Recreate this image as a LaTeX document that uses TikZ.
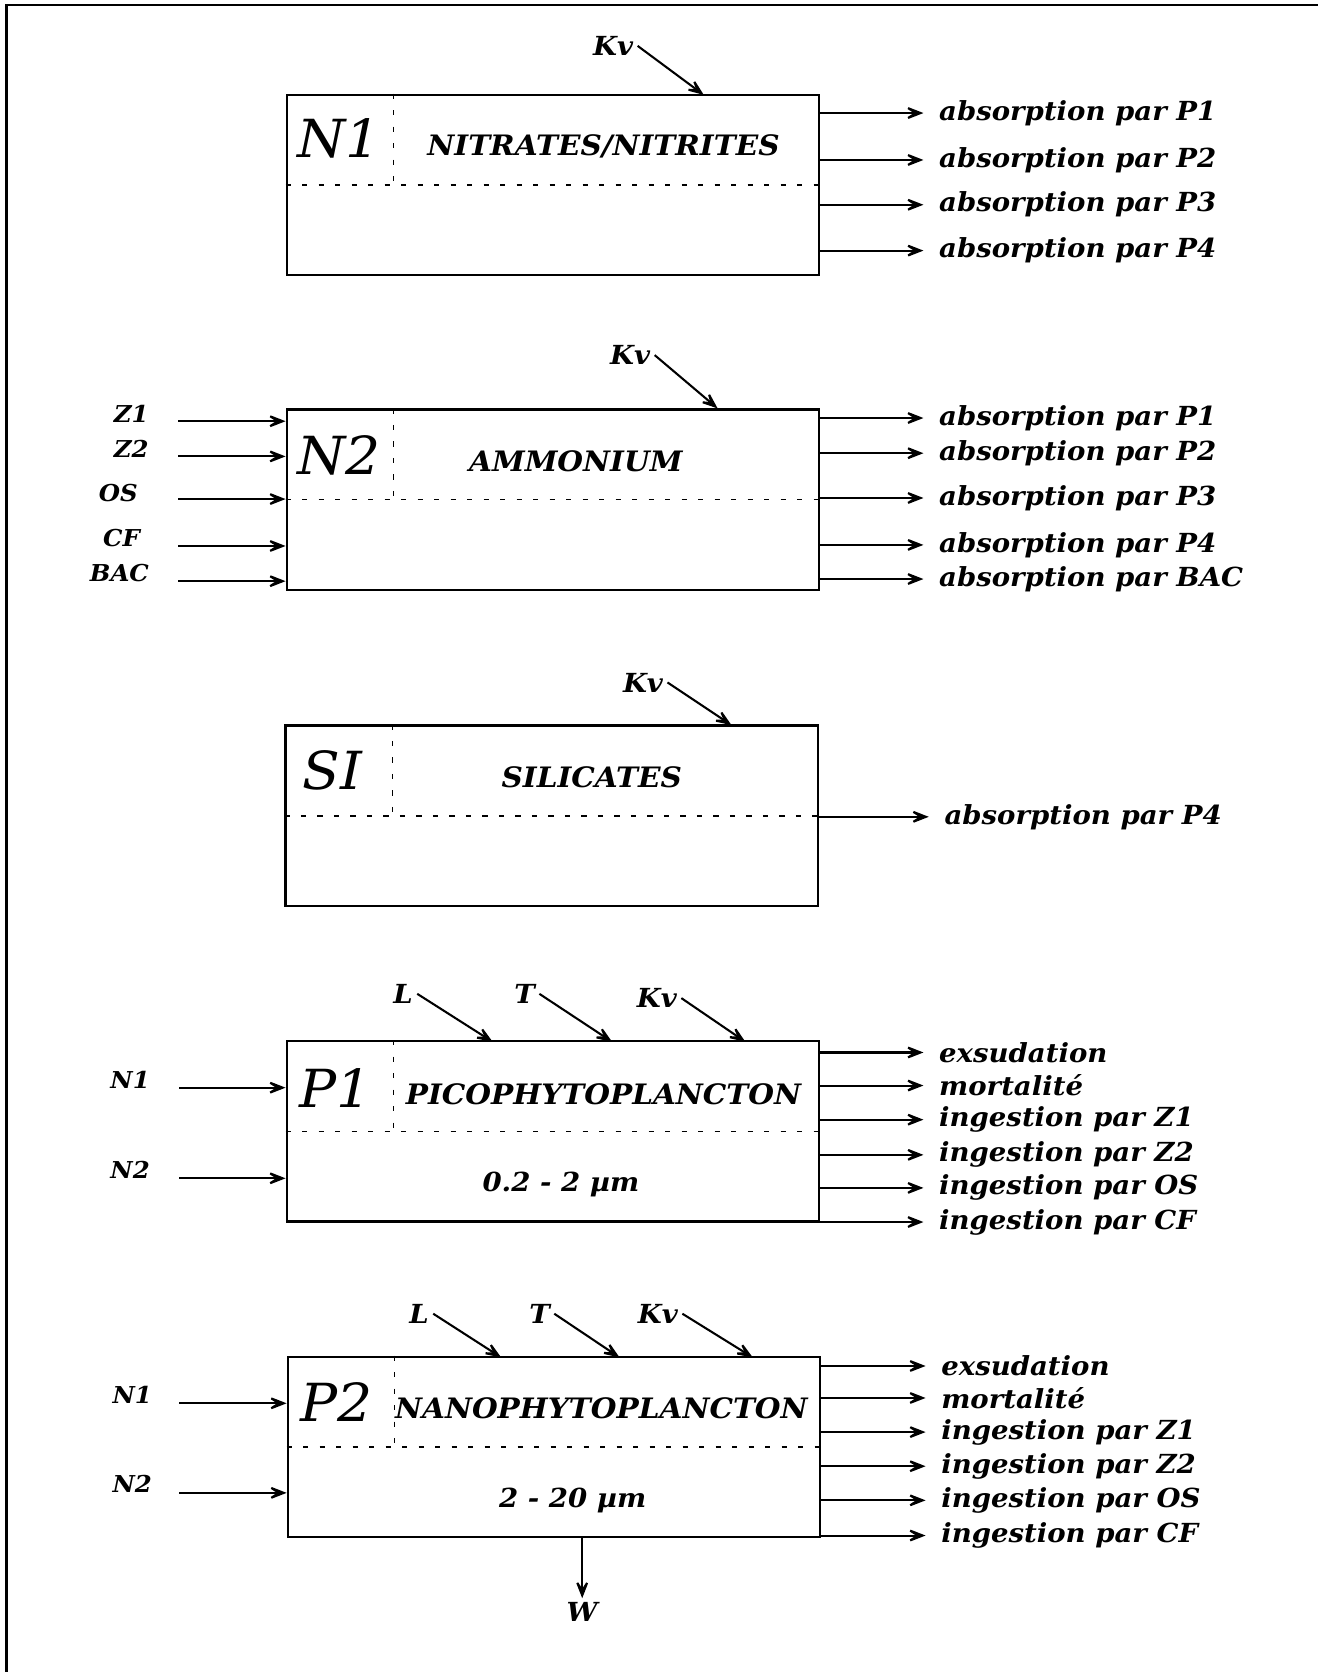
\documentclass[tikz,border=0pt]{standalone}
\usepackage{fontspec}
\setmainfont[FakeStretch=1.05]{DejaVu Serif}
\usetikzlibrary{arrows.meta}

\begin{document}
\begin{tikzpicture}[x=0.01cm,y=-0.01cm,
  box/.style={draw,line width=0.6pt,minimum width=4.99cm,minimum height=1.69cm,inner sep=0pt},
  divider/.style={line width=0.4pt,dash pattern=on 1.4pt off 3pt},
  big/.style={font=\fontsize{14}{16}\selectfont\itshape,inner sep=1pt},
  title/.style={font=\fontsize{7.5}{9}\selectfont\bfseries\itshape,inner sep=1pt},
  lbl/.style={font=\fontsize{7}{8}\selectfont\bfseries\itshape,inner sep=1pt},
  inlbl/.style={font=\fontsize{6.2}{8}\selectfont\bfseries\itshape,inner sep=1pt},
  outlbl/.style={lbl,anchor=west,inner sep=4pt},
  flow/.style={-{Stealth[length=2.3mm,width=1.8mm,inset=1.4mm]},line width=0.55pt}]
\useasboundingbox (0,0) rectangle (1236,1568);
\draw[line width=0.6pt] (6,1568) -- (6,5) -- (1236,5);
% N1
\node[box] (n1) at (518.5,173.5) {};
\draw[divider] (n1.west) -- (n1.east);
\draw[divider] ([xshift=1.01cm]n1.north west) -- ([xshift=1.01cm]n1.west);
\node[big] (n1name) at (318,130) {N1};
\node[title] (n1title) at (566,137) {NITRATES/NITRITES};
\node[lbl] (n1kv) at (575,43) {Kv};
\coordinate (n1kvin) at (660,89);
\draw[flow] (n1kv.east) -- (n1kvin);
\node[outlbl] (n1p1) at (866,106) {absorption par P1};
\node[outlbl] (n1p2) at (866,150) {absorption par P2};
\node[outlbl] (n1p3) at (866,192) {absorption par P3};
\node[outlbl] (n1p4) at (866,235) {absorption par P4};
\draw[flow] (n1p1 -| n1.east) -- (n1p1.west);
\draw[flow] (n1p2 -| n1.east) -- (n1p2.west);
\draw[flow] (n1p3 -| n1.east) -- (n1p3.west);
\draw[flow] (n1p4 -| n1.east) -- (n1p4.west);
% N2
\node[box] (n2) at (518.5,468.5) {};
\draw[divider] (n2.west) -- (n2.east);
\draw[divider] ([xshift=1.01cm]n2.north west) -- ([xshift=1.01cm]n2.west);
\node[big] (n2name) at (318,427) {N2};
\node[title] (n2title) at (540,433) {AMMONIUM};
\node[lbl] (n2kv) at (591,333) {Kv};
\coordinate (n2kvin) at (673,383);
\draw[flow] (n2kv.east) -- (n2kvin);
\node[inlbl] (n2z1) at (123,388) {Z1};
\node[inlbl] (n2z2) at (123,421) {Z2};
\node[inlbl] (n2os) at (111,462) {OS};
\node[inlbl] (n2cf) at (114,505) {CF};
\node[inlbl] (n2bac) at (112,537) {BAC};
\coordinate (n2z1s) at (167,395);
\coordinate (n2z2s) at (167,428);
\coordinate (n2oss) at (167,468);
\coordinate (n2cfs) at (167,512);
\coordinate (n2bacs) at (167,545);
\draw[flow] (n2z1s) -- (n2z1s -| n2.west);
\draw[flow] (n2z2s) -- (n2z2s -| n2.west);
\draw[flow] (n2oss) -- (n2oss -| n2.west);
\draw[flow] (n2cfs) -- (n2cfs -| n2.west);
\draw[flow] (n2bacs) -- (n2bacs -| n2.west);
\node[outlbl] (n2p1) at (866,392) {absorption par P1};
\node[outlbl] (n2p2) at (866,425) {absorption par P2};
\node[outlbl] (n2p3) at (866,467) {absorption par P3};
\node[outlbl] (n2p4) at (866,511) {absorption par P4};
\node[outlbl] (n2pbac) at (866,543) {absorption par BAC};
\draw[flow] (n2p1 -| n2.east) -- (n2p1.west);
\draw[flow] (n2p2 -| n2.east) -- (n2p2.west);
\draw[flow] (n2p3 -| n2.east) -- (n2p3.west);
\draw[flow] (n2p4 -| n2.east) -- (n2p4.west);
\draw[flow] (n2pbac -| n2.east) -- (n2pbac.west);
% SI
\node[box] (si) at (517.5,765) {};
\draw[divider] (si.west) -- (si.east);
\draw[divider] ([xshift=1.01cm]si.north west) -- ([xshift=1.01cm]si.west);
\node[big] (siname) at (312,722) {SI};
\node[title] (sititle) at (555,729) {SILICATES};
\node[lbl] (sikv) at (603,640) {Kv};
\coordinate (sikvin) at (686,680);
\draw[flow] (sikv.east) -- (sikvin);
\node[outlbl] (sip4) at (871,766) {absorption par P4};
\draw[flow] (sip4 -| si.east) -- (sip4.west);
% P1
\node[box] (p1) at (518.5,1061) {};
\draw[divider] (p1.west) -- (p1.east);
\draw[divider] ([xshift=1.01cm]p1.north west) -- ([xshift=1.01cm]p1.west);
\node[big] (p1name) at (315,1020) {P1};
\node[title] (p1title) at (566,1026) {PICOPHYTOPLANCTON};
\node[lbl] (p1size) at (526,1111) {0.2 - 2 µm};
\node[lbl] (p1l) at (378,932) {L};
\node[lbl] (p1t) at (492,932) {T};
\node[lbl] (p1kv) at (616,936) {Kv};
\coordinate (p1lin) at (462,977);
\coordinate (p1tin) at (574,977);
\coordinate (p1kvin) at (699,977);
\draw[flow] (p1l.east) -- (p1lin);
\draw[flow] (p1t.east) -- (p1tin);
\draw[flow] (p1kv.east) -- (p1kvin);
\node[inlbl] (p1n1) at (122,1013) {N1};
\node[inlbl] (p1n2) at (122,1097) {N2};
\coordinate (p1n1s) at (168,1020);
\coordinate (p1n2s) at (168,1105);
\draw[flow] (p1n1s) -- (p1n1s -| p1.west);
\draw[flow] (p1n2s) -- (p1n2s -| p1.west);
\node[outlbl] (p1ex) at (866,987) {exsudation};
\node[outlbl] (p1mo) at (866,1018) {mortalité};
\node[outlbl] (p1z1) at (866,1050) {ingestion par Z1};
\node[outlbl] (p1z2) at (866,1083) {ingestion par Z2};
\node[outlbl] (p1os) at (866,1114) {ingestion par OS};
\node[outlbl] (p1cf) at (866,1146) {ingestion par CF};
\draw[flow] (p1ex -| p1.east) -- (p1ex.west);
\draw[flow] (p1mo -| p1.east) -- (p1mo.west);
\draw[flow] (p1z1 -| p1.east) -- (p1z1.west);
\draw[flow] (p1z2 -| p1.east) -- (p1z2.west);
\draw[flow] (p1os -| p1.east) -- (p1os.west);
\draw[flow] (p1cf -| p1.east) -- (p1cf.west);
% P2
\node[box] (p2) at (519.5,1357) {};
\draw[divider] (p2.west) -- (p2.east);
\draw[divider] ([xshift=1.01cm]p2.north west) -- ([xshift=1.01cm]p2.west);
\node[big] (p2name) at (316,1315) {P2};
\node[title] (p2title) at (564,1321) {NANOPHYTOPLANCTON};
\node[lbl] (p2size) at (537,1407) {2 - 20 µm};
\node[lbl] (p2l) at (393,1232) {L};
\node[lbl] (p2t) at (506,1232) {T};
\node[lbl] (p2kv) at (617,1232) {Kv};
\coordinate (p2lin) at (470,1273);
\coordinate (p2tin) at (581,1273);
\coordinate (p2kvin) at (706,1273);
\draw[flow] (p2l.east) -- (p2lin);
\draw[flow] (p2t.east) -- (p2tin);
\draw[flow] (p2kv.east) -- (p2kvin);
\node[inlbl] (p2n1) at (124,1308) {N1};
\node[inlbl] (p2n2) at (124,1392) {N2};
\coordinate (p2n1s) at (168,1316);
\coordinate (p2n2s) at (168,1400);
\draw[flow] (p2n1s) -- (p2n1s -| p2.west);
\draw[flow] (p2n2s) -- (p2n2s -| p2.west);
\node[outlbl] (p2ex) at (868,1281) {exsudation};
\node[outlbl] (p2mo) at (868,1311) {mortalité};
\node[outlbl] (p2z1) at (868,1343) {ingestion par Z1};
\node[outlbl] (p2z2) at (868,1375) {ingestion par Z2};
\node[outlbl] (p2os) at (868,1407) {ingestion par OS};
\node[outlbl] (p2cf) at (868,1440) {ingestion par CF};
\draw[flow] (p2ex -| p2.east) -- (p2ex.west);
\draw[flow] (p2mo -| p2.east) -- (p2mo.west);
\draw[flow] (p2z1 -| p2.east) -- (p2z1.west);
\draw[flow] (p2z2 -| p2.east) -- (p2z2.west);
\draw[flow] (p2os -| p2.east) -- (p2os.west);
\draw[flow] (p2cf -| p2.east) -- (p2cf.west);
\node[lbl] (w) at (546,1512) {W};
\draw[flow] (w.north |- p2.south) -- (w.north);
\end{tikzpicture}
\end{document}
